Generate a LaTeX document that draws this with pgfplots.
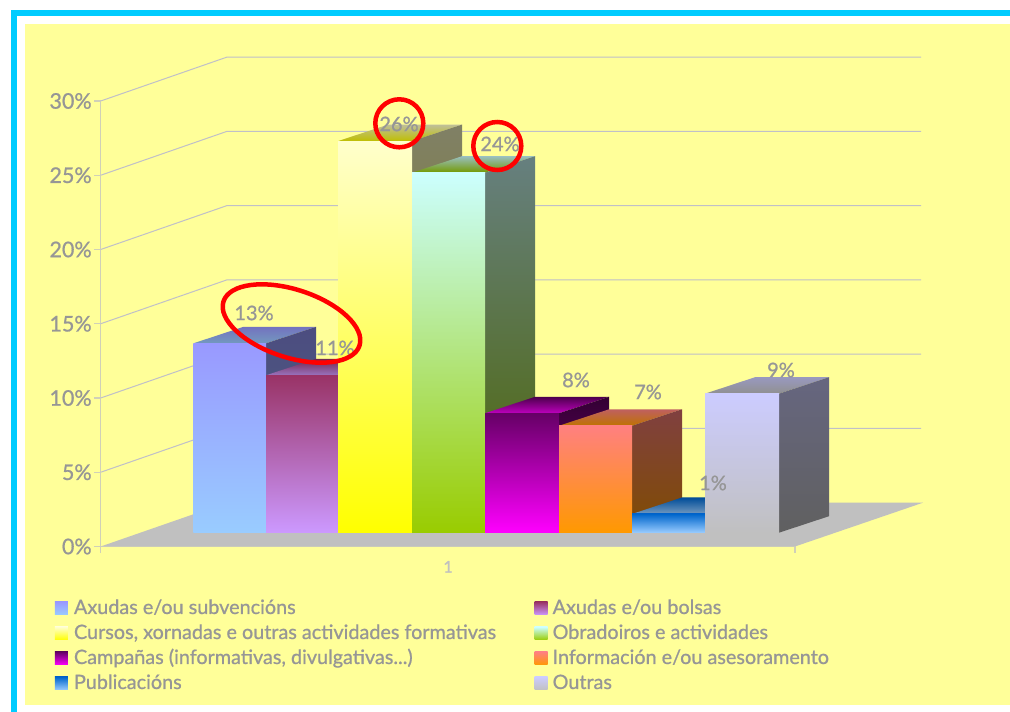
\documentclass[border=0pt]{standalone}
\usepackage{fontspec}
\setmainfont[FakeBold=0.8]{Lato}
\usepackage{pgfplots}
\pgfplotsset{compat=1.18}

\definecolor{panel}{HTML}{FFFF99}
\definecolor{frame}{HTML}{00CCFF}
\definecolor{txt}{HTML}{969696}
\definecolor{wall}{HTML}{C0C0C8}
\definecolor{floorc}{HTML}{C0C0C0}
\definecolor{axisc}{HTML}{D0D0B8}
% front face colours, top and bottom
\definecolor{a1}{HTML}{9999FF}\definecolor{b1}{HTML}{99CCFF}
\definecolor{a2}{HTML}{993366}\definecolor{b2}{HTML}{CC99FF}
\definecolor{a3}{HTML}{FFFFCC}\definecolor{b3}{HTML}{FFFF00}
\definecolor{a4}{HTML}{CCFFFF}\definecolor{b4}{HTML}{99CC00}
\definecolor{a5}{HTML}{660066}\definecolor{b5}{HTML}{FF00FF}
\definecolor{a6}{HTML}{FF8080}\definecolor{b6}{HTML}{FF9900}
\definecolor{a7}{HTML}{0066CC}\definecolor{b7}{HTML}{99CCFF}
\definecolor{a8}{HTML}{CCCCFF}\definecolor{b8}{HTML}{C0C0C0}

% x left, x right, value, top colour, bottom colour
\newcommand\tdbar[5]{%
  \addplot[forget plot,draw=none,top color=#4!75!black,bottom color=#5!75!black] coordinates
    {(#1,{0.93+#3}) (#2,{0.93+#3}) ({#2+50},{2.04+#3}) ({#1+50},{2.04+#3})} --cycle;
  \addplot[forget plot,draw=none,top color=#4!50!black,bottom color=#5!50!black] coordinates
    {(#2,0.93) (#2,{0.93+#3}) ({#2+50},{2.04+#3}) ({#2+50},2.04)} --cycle;
  \addplot[forget plot,draw=none,top color=#4,bottom color=#5] coordinates
    {(#1,0.93) (#2,0.93) (#2,{0.93+#3}) (#1,{0.93+#3})} --cycle;
}
% x pixel, y pixel, text
\newcommand\vlab[3]{\node[text=txt,font=\fontsize{20}{20}\selectfont] at (axis cs:#1,{(546.5-#2)/14.85}) {#3\%};}
\newcommand\leg[3]{%
  \addlegendimage{legend image code/.code={\path[draw=none,top color=#1,bottom color=#2] (0pt,-5pt) rectangle (13pt,8pt);}}
  \addlegendentry{#3}
}

\begin{document}
\begin{tikzpicture}[x=1pt,y=1pt]
\path[use as bounding box,fill=white] (0,0) rectangle (1010,712);
\fill[panel] (25,7.3) rectangle (1010,688);
\fill[frame] (11.3,0) rectangle (17.3,702);
\fill[frame] (11.3,696) rectangle (1010,702);

\begin{axis}[
    at={(100.7pt,165.5pt)}, anchor=south west,
    scale only axis, width=694.3pt, height=445.5pt,
    xmin=100.7, xmax=795, ymin=0, ymax=30,
    clip=false,
    axis y line*=left, axis x line*=bottom,
    axis line style={axisc,line width=1.2pt,-},
    tick align=outside, major tick length=6.5pt,
    tick style={axisc,line width=1.2pt},
    ytick={0,5,10,15,20,25,30},
    yticklabels={0\%,5\%,10\%,15\%,20\%,25\%,30\%},
    y tick label style={text=txt,font=\fontsize{21.5}{21.5}\selectfont,xshift=1pt},
    xtick={100.7,795}, xticklabels={},
    extra x ticks={448}, extra x tick labels={1},
    extra x tick style={major tick length=0pt},
    x tick label style={text=floorc,font=\fontsize{16}{16}\selectfont,yshift=-11pt},
    legend columns=2,
    legend cell align=left,
    legend style={draw=none,fill=none,inner sep=0pt,outer sep=0pt,
      at={(axis cs:55,-3.67)},anchor=north west,
      font=\fontsize{19.8}{19.8}\selectfont,text=txt,
      row sep=7pt,
      nodes={inner sep=0pt,text height=13pt,text depth=5pt},
      /tikz/column 1/.style={column sep=6pt},
      /tikz/column 2/.style={column sep=38.5pt},
      /tikz/column 3/.style={column sep=5pt}},
]
% side wall and back wall lines
\pgfplotsinvokeforeach{5,10,15,20,25,30}{
  \addplot[forget plot,wall,line width=1pt] coordinates {(100.7,#1) (226.7,{#1+2.95}) (921,{#1+2.95})};
}
% floor
\addplot[forget plot,draw=none,fill=floorc] coordinates {(100.7,0) (795,0) (923,2.95) (226.7,2.95)} --cycle;

\tdbar{193.3}{266}{12.75}{a1}{b1}
\tdbar{266}{338}{10.6}{a2}{b2}
\tdbar{338}{412}{26.37}{a3}{b3}
\tdbar{412}{485}{24.24}{a4}{b4}
\tdbar{485}{559}{8.04}{a5}{b5}
\tdbar{559}{632}{7.2}{a6}{b6}
\tdbar{632}{705}{1.26}{a7}{b7}
\tdbar{705}{779}{9.36}{a8}{b8}

\vlab{254}{313}{13}
\vlab{335}{348}{11}
\vlab{399}{124}{26}
\vlab{500}{144}{24}
\vlab{576}{380}{8}
\vlab{648}{392}{7}
\vlab{713}{483}{1}
\vlab{781}{370}{9}

% hand drawn marks
\draw[red,line width=4.5pt] (axis cs:291.5,{(546.5-323.5)/14.85}) ellipse [x radius=71.5pt,y radius=34pt,rotate=-18];
\draw[red,line width=4.5pt] (axis cs:399.3,{(546.5-123.3)/14.85}) circle [radius=24pt];
\draw[red,line width=4.5pt] (axis cs:497.3,{(546.5-146)/14.85}) circle [radius=24pt];

\leg{a1}{b1}{Axudas e/ou subvencións}
\leg{a2}{b2}{Axudas e/ou bolsas}
\leg{a3}{b3}{Cursos, xornadas e outras actividades formativas}
\leg{a4}{b4}{Obradoiros e actividades}
\leg{a5}{b5}{Campañas (informativas, divulgativas...)}
\leg{a6}{b6}{Información e/ou asesoramento}
\leg{a7}{b7}{Publicacións}
\leg{a8}{b8}{Outras}
\end{axis}
\end{tikzpicture}
\end{document}
